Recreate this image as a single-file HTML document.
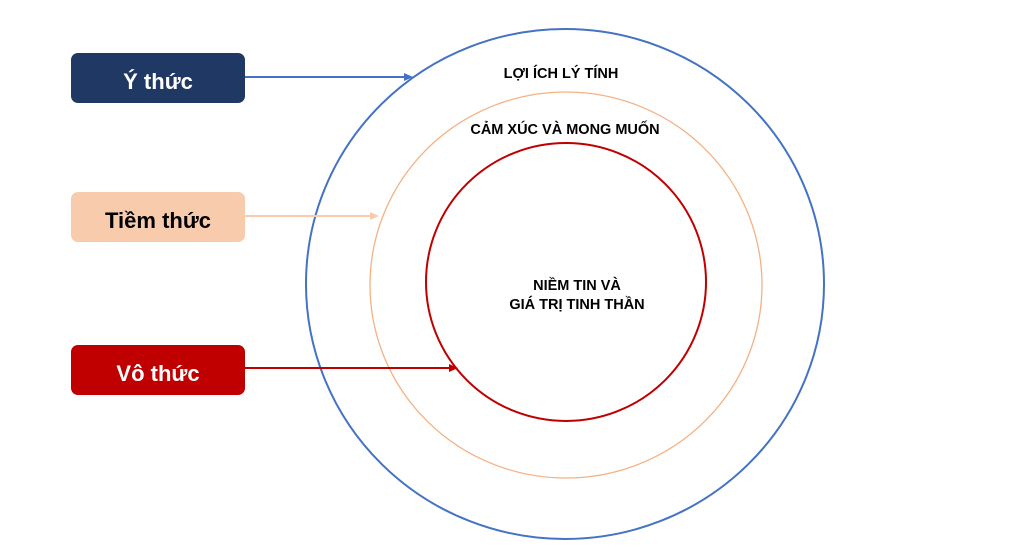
<!DOCTYPE html>
<html><head><meta charset="utf-8"><style>
html,body{margin:0;padding:0;background:#fff;width:1024px;height:549px;overflow:hidden}
.box{position:absolute;left:71px;width:174px;height:50px;border-radius:7px;font:bold 22px "Liberation Sans",sans-serif;display:flex;align-items:center;justify-content:center;box-sizing:border-box;padding-top:7px}
</style></head><body>
<div class="box" style="top:53px;background:#203864;color:#fff">Ý thức</div>
<div class="box" style="top:192px;background:#f8cbad;color:#000">Tiềm thức</div>
<div class="box" style="top:345px;background:#c00000;color:#fff">Vô thức</div>
<svg width="1024" height="549" style="position:absolute;left:0;top:0">
<ellipse cx="565" cy="284" rx="259" ry="255" fill="none" stroke="#4472c4" stroke-width="2"/>
<ellipse cx="566" cy="285" rx="196" ry="193" fill="none" stroke="#f4b183" stroke-width="1.3"/>
<ellipse cx="566" cy="282" rx="140" ry="139" fill="none" stroke="#c00000" stroke-width="2"/>
<line x1="245" y1="77" x2="406" y2="77" stroke="#4472c4" stroke-width="2"/>
<polygon points="413,77 404,73 404,81" fill="#4472c4"/>
<line x1="245" y1="216" x2="372" y2="216" stroke="#f8cbad" stroke-width="2"/>
<polygon points="379,216 370,212 370,220" fill="#f8cbad"/>
<line x1="245" y1="368" x2="451" y2="368" stroke="#c00000" stroke-width="2"/>
<polygon points="458,368 449,364 449,372" fill="#c00000"/>
<g font-family="Liberation Sans, sans-serif" font-weight="bold" font-size="14.5" fill="#000" text-anchor="middle">
<text x="561" y="78">LỢI ÍCH LÝ TÍNH</text>
<text x="565" y="134">CẢM XÚC VÀ MONG MUỐN</text>
<text x="577" y="290">NIỀM TIN VÀ</text>
<text x="577" y="309">GIÁ TRỊ TINH THẦN</text>
</g>
</svg>
</body></html>
